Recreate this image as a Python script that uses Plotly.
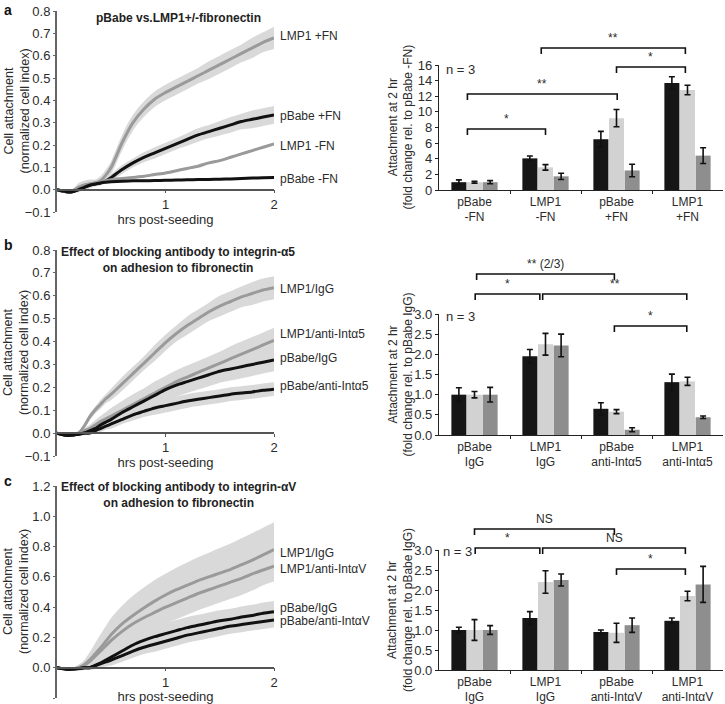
import plotly.graph_objects as go

W, H = 725, 704
FONT = "Arial, Liberation Sans, sans-serif"
TXT = "#2b2b2b"
BLACK_LINE = "#111111"
GRAY_LINE = "#9a9a9a"
BAND = "#d9d9d9"
BAR_COLORS = ["#161616", "#d2d2d2", "#8e8e8e"]

# ---------------- time-course data (hrs post-seeding) ----------------
HRS = [0, 0.1, 0.15, 0.2, 0.25, 0.3, 0.35, 0.4, 0.45, 0.5, 0.6, 0.7, 0.8, 0.9,
       1.0, 1.1, 1.2, 1.3, 1.4, 1.5, 1.6, 1.7, 1.8, 1.9, 2.0]

# panel a
a_names = ["LMP1 +FN", "pBabe +FN", "LMP1 -FN", "pBabe -FN"]
a_lmp1_fn = [0, -0.01, -0.005, 0.01, 0.02, 0.025, 0.03, 0.04, 0.065, 0.10, 0.21, 0.30, 0.36, 0.405,
             0.435, 0.46, 0.485, 0.51, 0.535, 0.56, 0.585, 0.61, 0.635, 0.66, 0.68]
a_lmp1_fn_err = [0, 0.005, 0.01, 0.02, 0.02, 0.02, 0.015, 0.02, 0.025, 0.03, 0.035, 0.035, 0.035, 0.035,
                 0.035, 0.035, 0.035, 0.035, 0.04, 0.04, 0.04, 0.04, 0.045, 0.045, 0.05]
a_pbabe_fn = [0, -0.01, -0.008, 0.0, 0.01, 0.02, 0.025, 0.03, 0.04, 0.055, 0.09, 0.12, 0.145, 0.165,
              0.185, 0.205, 0.225, 0.245, 0.26, 0.275, 0.29, 0.305, 0.315, 0.325, 0.335]
a_pbabe_fn_err = [0, 0.005, 0.008, 0.01, 0.01, 0.01, 0.01, 0.01, 0.012, 0.015, 0.02, 0.02, 0.022, 0.025,
                  0.025, 0.025, 0.028, 0.03, 0.03, 0.032, 0.035, 0.035, 0.04, 0.04, 0.04]
a_lmp1_nofn = [0, -0.01, -0.005, 0.01, 0.02, 0.025, 0.03, 0.035, 0.04, 0.045, 0.05, 0.055, 0.06, 0.068,
               0.075, 0.085, 0.095, 0.105, 0.12, 0.13, 0.145, 0.16, 0.175, 0.19, 0.205]
a_lmp1_nofn_err = [0, 0.005, 0.005, 0.005, 0.005, 0.005, 0.005, 0.005, 0.005, 0.005, 0.005, 0.005, 0.005,
                   0.005, 0.005, 0.005, 0.005, 0.005, 0.005, 0.005, 0.005, 0.005, 0.005, 0.005, 0.005]
a_pbabe_nofn = [0, -0.01, -0.008, 0.0, 0.01, 0.02, 0.025, 0.03, 0.033, 0.035, 0.038, 0.04, 0.04, 0.041,
                0.042, 0.043, 0.044, 0.045, 0.046, 0.047, 0.048, 0.05, 0.052, 0.053, 0.054]
a_pbabe_nofn_err = [0, 0.005, 0.005, 0.005, 0.005, 0.005, 0.005, 0.005, 0.005, 0.005, 0.005, 0.005, 0.005,
                    0.005, 0.005, 0.005, 0.005, 0.005, 0.005, 0.005, 0.005, 0.005, 0.005, 0.005, 0.005]
a_label_y = [0.69, 0.33, 0.195, 0.046]

# panel b
b_names = ["LMP1/IgG", "LMP1/anti-Intα5", "pBabe/IgG", "pBabe/anti-Intα5"]
b_lmp1_igg = [0, -0.01, -0.008, 0.0, 0.03, 0.07, 0.10, 0.125, 0.15, 0.17, 0.215, 0.26, 0.305, 0.35,
              0.395, 0.435, 0.47, 0.50, 0.53, 0.555, 0.575, 0.595, 0.61, 0.625, 0.635]
b_lmp1_igg_err = [0, 0.005, 0.005, 0.01, 0.01, 0.015, 0.015, 0.02, 0.02, 0.025, 0.03, 0.03, 0.03, 0.035,
                  0.035, 0.035, 0.04, 0.04, 0.04, 0.045, 0.045, 0.045, 0.05, 0.05, 0.05]
b_lmp1_anti = [0, -0.01, -0.008, 0.0, 0.01, 0.02, 0.035, 0.05, 0.062, 0.075, 0.10, 0.125, 0.15, 0.175,
               0.20, 0.225, 0.245, 0.265, 0.285, 0.305, 0.325, 0.345, 0.365, 0.385, 0.405]
b_lmp1_anti_err = [0, 0.005, 0.005, 0.01, 0.01, 0.015, 0.02, 0.025, 0.03, 0.035, 0.04, 0.045, 0.045, 0.05,
                   0.05, 0.05, 0.05, 0.05, 0.05, 0.05, 0.055, 0.055, 0.055, 0.055, 0.055]
b_pbabe_igg = [0, -0.01, -0.008, -0.005, 0.0, 0.01, 0.02, 0.035, 0.048, 0.06, 0.09, 0.115, 0.14, 0.165,
               0.19, 0.21, 0.225, 0.24, 0.255, 0.27, 0.28, 0.29, 0.30, 0.31, 0.32]
b_pbabe_igg_err = [0, 0.005, 0.005, 0.005, 0.01, 0.015, 0.02, 0.025, 0.03, 0.035, 0.04, 0.045, 0.045, 0.05,
                   0.05, 0.05, 0.05, 0.05, 0.05, 0.05, 0.05, 0.05, 0.05, 0.05, 0.05]
b_pbabe_anti = [0, -0.01, -0.008, -0.005, 0.0, 0.0, 0.01, 0.02, 0.03, 0.04, 0.06, 0.08, 0.095, 0.11,
                0.12, 0.13, 0.14, 0.148, 0.155, 0.162, 0.17, 0.175, 0.18, 0.187, 0.192]
b_pbabe_anti_err = [0, 0.005, 0.005, 0.005, 0.005, 0.01, 0.01, 0.015, 0.015, 0.02, 0.02, 0.025, 0.025, 0.03,
                    0.03, 0.03, 0.03, 0.03, 0.03, 0.03, 0.03, 0.03, 0.03, 0.03, 0.03]
b_label_y = [0.63, 0.435, 0.33, 0.205]

# panel c
c_names = ["LMP1/IgG", "LMP1/anti-IntαV", "pBabe/IgG", "pBabe/anti-IntαV"]
c_lmp1_igg = [0, -0.01, -0.008, 0.0, 0.02, 0.05, 0.09, 0.13, 0.175, 0.22, 0.29, 0.345, 0.395, 0.44,
              0.48, 0.515, 0.545, 0.575, 0.60, 0.625, 0.65, 0.68, 0.71, 0.745, 0.78]
c_lmp1_igg_err = [0, 0.005, 0.01, 0.02, 0.03, 0.05, 0.07, 0.09, 0.1, 0.11, 0.12, 0.13, 0.135, 0.14,
                  0.14, 0.145, 0.15, 0.155, 0.16, 0.165, 0.17, 0.175, 0.18, 0.18, 0.18]
c_lmp1_anti = [0, -0.01, -0.008, 0.0, 0.015, 0.04, 0.075, 0.11, 0.145, 0.18, 0.24, 0.29, 0.33, 0.365,
               0.40, 0.43, 0.46, 0.49, 0.515, 0.54, 0.565, 0.59, 0.62, 0.645, 0.67]
c_lmp1_anti_err = [0, 0.005, 0.01, 0.02, 0.03, 0.04, 0.06, 0.08, 0.09, 0.1, 0.11, 0.11, 0.11, 0.11,
                   0.11, 0.11, 0.11, 0.11, 0.11, 0.11, 0.11, 0.11, 0.11, 0.1, 0.1]
c_pbabe_igg = [0, -0.01, -0.008, -0.005, 0.0, 0.0, 0.015, 0.03, 0.05, 0.07, 0.11, 0.15, 0.18, 0.205,
               0.225, 0.245, 0.265, 0.28, 0.295, 0.31, 0.32, 0.335, 0.345, 0.36, 0.37]
c_pbabe_igg_err = [0, 0.005, 0.005, 0.01, 0.01, 0.015, 0.02, 0.03, 0.035, 0.04, 0.05, 0.06, 0.065, 0.07,
                   0.07, 0.07, 0.07, 0.07, 0.07, 0.07, 0.07, 0.07, 0.07, 0.07, 0.07]
c_pbabe_anti = [0, -0.01, -0.008, -0.005, 0.0, 0.0, 0.012, 0.025, 0.038, 0.05, 0.08, 0.11, 0.135, 0.155,
                0.175, 0.195, 0.215, 0.23, 0.245, 0.26, 0.275, 0.285, 0.295, 0.305, 0.315]
c_pbabe_anti_err = [0, 0.005, 0.005, 0.01, 0.01, 0.015, 0.02, 0.025, 0.03, 0.035, 0.04, 0.045, 0.045, 0.05,
                    0.05, 0.05, 0.05, 0.05, 0.05, 0.05, 0.05, 0.05, 0.05, 0.05, 0.05]
c_label_y = [0.756, 0.654, 0.397, 0.31]

# ---------------- bar data (attachment at 2 hr, 3 experiments) ----------------
a_cats = ["pBabe<br>-FN", "LMP1<br>-FN", "pBabe<br>+FN", "LMP1<br>+FN"]
a_exp1 = [1.0, 4.05, 6.5, 13.7]
a_exp1_err = [0.3, 0.3, 1.0, 0.8]
a_exp2 = [1.0, 2.9, 9.2, 12.8]
a_exp2_err = [0.12, 0.35, 1.1, 0.6]
a_exp3 = [1.0, 1.75, 2.5, 4.4]
a_exp3_err = [0.2, 0.4, 0.8, 1.0]

b_cats = ["pBabe<br>IgG", "LMP1<br>IgG", "pBabe<br>anti-Intα5", "LMP1<br>anti-Intα5"]
b_exp1 = [1.0, 1.95, 0.65, 1.31]
b_exp1_err = [0.17, 0.17, 0.15, 0.2]
b_exp2 = [1.0, 2.25, 0.58, 1.33]
b_exp2_err = [0.08, 0.27, 0.05, 0.1]
b_exp3 = [1.0, 2.22, 0.13, 0.44]
b_exp3_err = [0.18, 0.28, 0.05, 0.03]

c_cats = ["pBabe<br>IgG", "LMP1<br>IgG", "pBabe<br>anti-IntαV", "LMP1<br>anti-IntαV"]
c_exp1 = [1.0, 1.3, 0.95, 1.23]
c_exp1_err = [0.07, 0.16, 0.05, 0.07]
c_exp2 = [1.0, 2.2, 0.93, 1.85]
c_exp2_err = [0.26, 0.28, 0.24, 0.12]
c_exp3 = [1.0, 2.25, 1.12, 2.14]
c_exp3_err = [0.11, 0.15, 0.18, 0.45]

# significance brackets: (left cat, right cat, label)
a_sig = [(-0.10, 1.00, "*"), (-0.10, 2.01, "**"), (2.00, 2.97, "*"), (0.94, 2.97, "**")]
b_sig = [(0.03, 1.97, "** (2/3)"), (0.01, 0.92, "*"), (0.96, 2.99, "**"), (1.97, 2.99, "*")]
c_sig = [(0.00, 1.97, "NS"), (0.01, 0.92, "*"), (0.96, 2.97, "NS"), (2.00, 2.97, "*")]
# bracket heights (pixel rows in figure)
a_sig_px = [129, 94, 67, 48]
b_sig_px = [274, 294, 294, 326]
c_sig_px = [529, 548, 548, 569]


def px(x):
    return x / W


def py(y):
    return 1 - y / H


fig = go.Figure()
annotations = []
shapes = []


def line_panel(idx, ysrc, ydom_px, yrange, dtick, names, series, label_y, title_lines, title_px, letter, letter_px):
    xa = f"x{idx}" if idx > 1 else "x"
    ya = f"y{idx}" if idx > 1 else "y"
    colors = [GRAY_LINE, BLACK_LINE, GRAY_LINE, BLACK_LINE] if ysrc == "a" else \
        [GRAY_LINE, GRAY_LINE, BLACK_LINE, BLACK_LINE]
    for vals, err in series:
        up = [v + e for v, e in zip(vals, err)]
        lo = [v - e for v, e in zip(vals, err)]
        fig.add_trace(go.Scatter(x=HRS, y=up, mode="lines", line=dict(width=0, shape="spline"),
                                 xaxis=xa, yaxis=ya, showlegend=False, hoverinfo="skip"))
        fig.add_trace(go.Scatter(x=HRS, y=lo, mode="lines", line=dict(width=0, shape="spline"),
                                 fill="tonexty", fillcolor=BAND,
                                 xaxis=xa, yaxis=ya, showlegend=False, hoverinfo="skip"))
    for (vals, err), col, nm, ly in zip(series, colors, names, label_y):
        fig.add_trace(go.Scatter(x=HRS, y=vals, mode="lines", name=nm,
                                 line=dict(color=col, width=3, shape="spline", smoothing=0.6),
                                 xaxis=xa, yaxis=ya, showlegend=False))
        annotations.append(dict(x=2, y=ly, xref=xa, yref=ya, text=nm, showarrow=False,
                                xanchor="left", yanchor="middle", xshift=4,
                                font=dict(size=12, color=TXT, family=FONT)))
    ydom = [py(ydom_px[0]), py(ydom_px[1])]
    pos0 = ydom[0] + (0 - yrange[0]) / (yrange[1] - yrange[0]) * (ydom[1] - ydom[0])
    xkey = f"xaxis{idx}" if idx > 1 else "xaxis"
    ykey = f"yaxis{idx}" if idx > 1 else "yaxis"
    fig.layout[xkey] = dict(domain=[px(57), px(274)], range=[0, 2], anchor="free", position=pos0,
                            automargin=False,
                            showline=True, linecolor="#555555", linewidth=1.5,
                            tickvals=[1, 2], ticks="outside", ticklen=3, tickcolor="#555555",
                            showgrid=False, zeroline=False,
                            tickfont=dict(size=13, color=TXT, family=FONT),
                            title=dict(text="hrs post-seeding", standoff=0,
                                       font=dict(size=13, color=TXT, family=FONT)))
    fig.layout[ykey] = dict(domain=ydom, range=yrange, anchor=xa, dtick=dtick, tick0=0,
                            automargin=False,
                            tickformat=".1f", showline=True, linecolor="#666666", linewidth=2,
                            ticks="outside", ticklen=2, tickcolor="#666666",
                            showgrid=False, zeroline=False,
                            tickfont=dict(size=13, color=TXT, family=FONT))
    yc = (ydom[0] + ydom[1]) / 2
    annotations.append(dict(x=px(16), y=yc, xref="paper", yref="paper", textangle=-90,
                            xanchor="center", yanchor="middle",
                            text="Cell attachment<br>(normalized cell index)", showarrow=False,
                            font=dict(size=12.5, color=TXT, family=FONT)))
    annotations.append(dict(x=px(178), y=py(title_px), xref="paper", yref="paper",
                            text="<b>" + "<br>".join(title_lines) + "</b>", showarrow=False,
                            xanchor="center", yanchor="top", align="center",
                            font=dict(size=12, color="#222222", family=FONT)))
    annotations.append(dict(x=px(letter_px[0]), y=py(letter_px[1]), xref="paper", yref="paper",
                            text=f"<b>{letter}</b>", showarrow=False, xanchor="left", yanchor="top",
                            font=dict(size=14, color="#111111", family=FONT)))


def bar_panel(idx, ydom_px, yrange, dtick, fmt, cats, exps, ytitle, sig, sig_px, n_px):
    xa = f"x{idx}"
    ya = f"y{idx}"
    xs = [0, 1, 2, 3]
    for (vals, err), col in zip(exps, BAR_COLORS):
        fig.add_trace(go.Bar(x=xs, y=vals, marker=dict(color=col, line=dict(width=0)),
                             error_y=dict(type="data", array=err, color="#111111", thickness=1.6, width=3),
                             xaxis=xa, yaxis=ya, showlegend=False))
    ydom = [py(ydom_px[0]), py(ydom_px[1])]
    fig.layout[f"xaxis{idx}"] = dict(domain=[px(439), px(723)], range=[-0.5, 3.5], anchor=ya,
                                     automargin=False,
                                     tickvals=xs, ticktext=cats, ticks="",
                                     showline=True, linecolor="#222222", linewidth=1.2,
                                     minor=dict(ticks="outside", tickvals=[0.5, 1.5, 2.5], ticklen=3,
                                                tickcolor="#222222"),
                                     showgrid=False, zeroline=False,
                                     tickfont=dict(size=12, color=TXT, family=FONT))
    fig.layout[f"yaxis{idx}"] = dict(domain=ydom, range=yrange, anchor=xa, dtick=dtick, tick0=0,
                                     automargin=False,
                                     tickformat=fmt, showline=True, linecolor="#222222", linewidth=1.2,
                                     ticks="outside", ticklen=3, tickcolor="#222222",
                                     showgrid=False, zeroline=False,
                                     tickfont=dict(size=13, color=TXT, family=FONT))
    yc = (ydom[0] + ydom[1]) / 2
    annotations.append(dict(x=px(400), y=yc, xref="paper", yref="paper", textangle=-90,
                            xanchor="center", yanchor="middle",
                            text=ytitle, showarrow=False,
                            font=dict(size=12, color=TXT, family=FONT)))
    annotations.append(dict(x=px(n_px[0]), y=py(n_px[1]), xref="paper", yref="paper",
                            text="n = 3", showarrow=False, xanchor="left", yanchor="middle",
                            font=dict(size=13, color=TXT, family=FONT)))
    for (l, r, lab), ypx in zip(sig, sig_px):
        yt = py(ypx)
        yd = py(ypx + 6)
        shapes.append(dict(type="path", xref=xa, yref="paper",
                           path=f"M {l},{yd} L {l},{yt} L {r},{yt} L {r},{yd}",
                           line=dict(color="#111111", width=1.6)))
        annotations.append(dict(x=(l + r) / 2, y=yt, xref=xa, yref="paper", text=lab,
                                showarrow=False, xanchor="center", yanchor="bottom", yshift=1,
                                font=dict(size=12, color=TXT, family=FONT)))


line_panel(1, "a", (212, 11), [-0.1, 0.8], 0.1, a_names,
           [(a_lmp1_fn, a_lmp1_fn_err), (a_pbabe_fn, a_pbabe_fn_err),
            (a_lmp1_nofn, a_lmp1_nofn_err), (a_pbabe_nofn, a_pbabe_nofn_err)],
           a_label_y, ["pBabe vs.LMP1+/-fibronectin"], 9, "a", (2, 0))
bar_panel(2, (190, 65), [0, 16], 2, "d", a_cats,
          [(a_exp1, a_exp1_err), (a_exp2, a_exp2_err), (a_exp3, a_exp3_err)],
          "Attachment at 2 hr<br>(fold change rel. to pBabe -FN)", a_sig, a_sig_px, (444, 69))

line_panel(3, "b", (456, 250), [-0.1, 0.8], 0.1, b_names,
           [(b_lmp1_igg, b_lmp1_igg_err), (b_lmp1_anti, b_lmp1_anti_err),
            (b_pbabe_igg, b_pbabe_igg_err), (b_pbabe_anti, b_pbabe_anti_err)],
           b_label_y, ["Effect of blocking antibody to integrin-α5", "on adhesion to fibronectin"],
           243, "b", (2, 235))
bar_panel(4, (435, 314), [0, 3], 0.5, ".1f", b_cats,
          [(b_exp1, b_exp1_err), (b_exp2, b_exp2_err), (b_exp3, b_exp3_err)],
          "Attachment at 2 hr<br>(fold change rel. to pBabe IgG)", b_sig, b_sig_px, (444, 316))

line_panel(5, "c", (698, 486), [-0.2, 1.2], 0.2, c_names,
           [(c_lmp1_igg, c_lmp1_igg_err), (c_lmp1_anti, c_lmp1_anti_err),
            (c_pbabe_igg, c_pbabe_igg_err), (c_pbabe_anti, c_pbabe_anti_err)],
           c_label_y, ["Effect of blocking antibody to integrin-αV", "on adhesion to fibronectin"],
           478, "c", (2, 471))
bar_panel(6, (670, 550), [0, 3], 0.5, ".1f", c_cats,
          [(c_exp1, c_exp1_err), (c_exp2, c_exp2_err), (c_exp3, c_exp3_err)],
          "Attachment at 2 hr<br>(fold change rel. to pBabe IgG)", c_sig, c_sig_px, (441, 551))

fig.update_layout(template="none", width=W, height=H, margin=dict(l=0, r=0, t=0, b=0, autoexpand=False),
                  paper_bgcolor="white", plot_bgcolor="white",
                  barmode="group", bargap=0.34, bargroupgap=0.04,
                  font=dict(family=FONT, color=TXT),
                  annotations=annotations, shapes=shapes, showlegend=False)

fig.write_html("out.html", config={"displayModeBar": False},
               post_script="document.body.style.margin='0';document.body.style.padding='0';"
                           "document.body.style.overflow='hidden';")
